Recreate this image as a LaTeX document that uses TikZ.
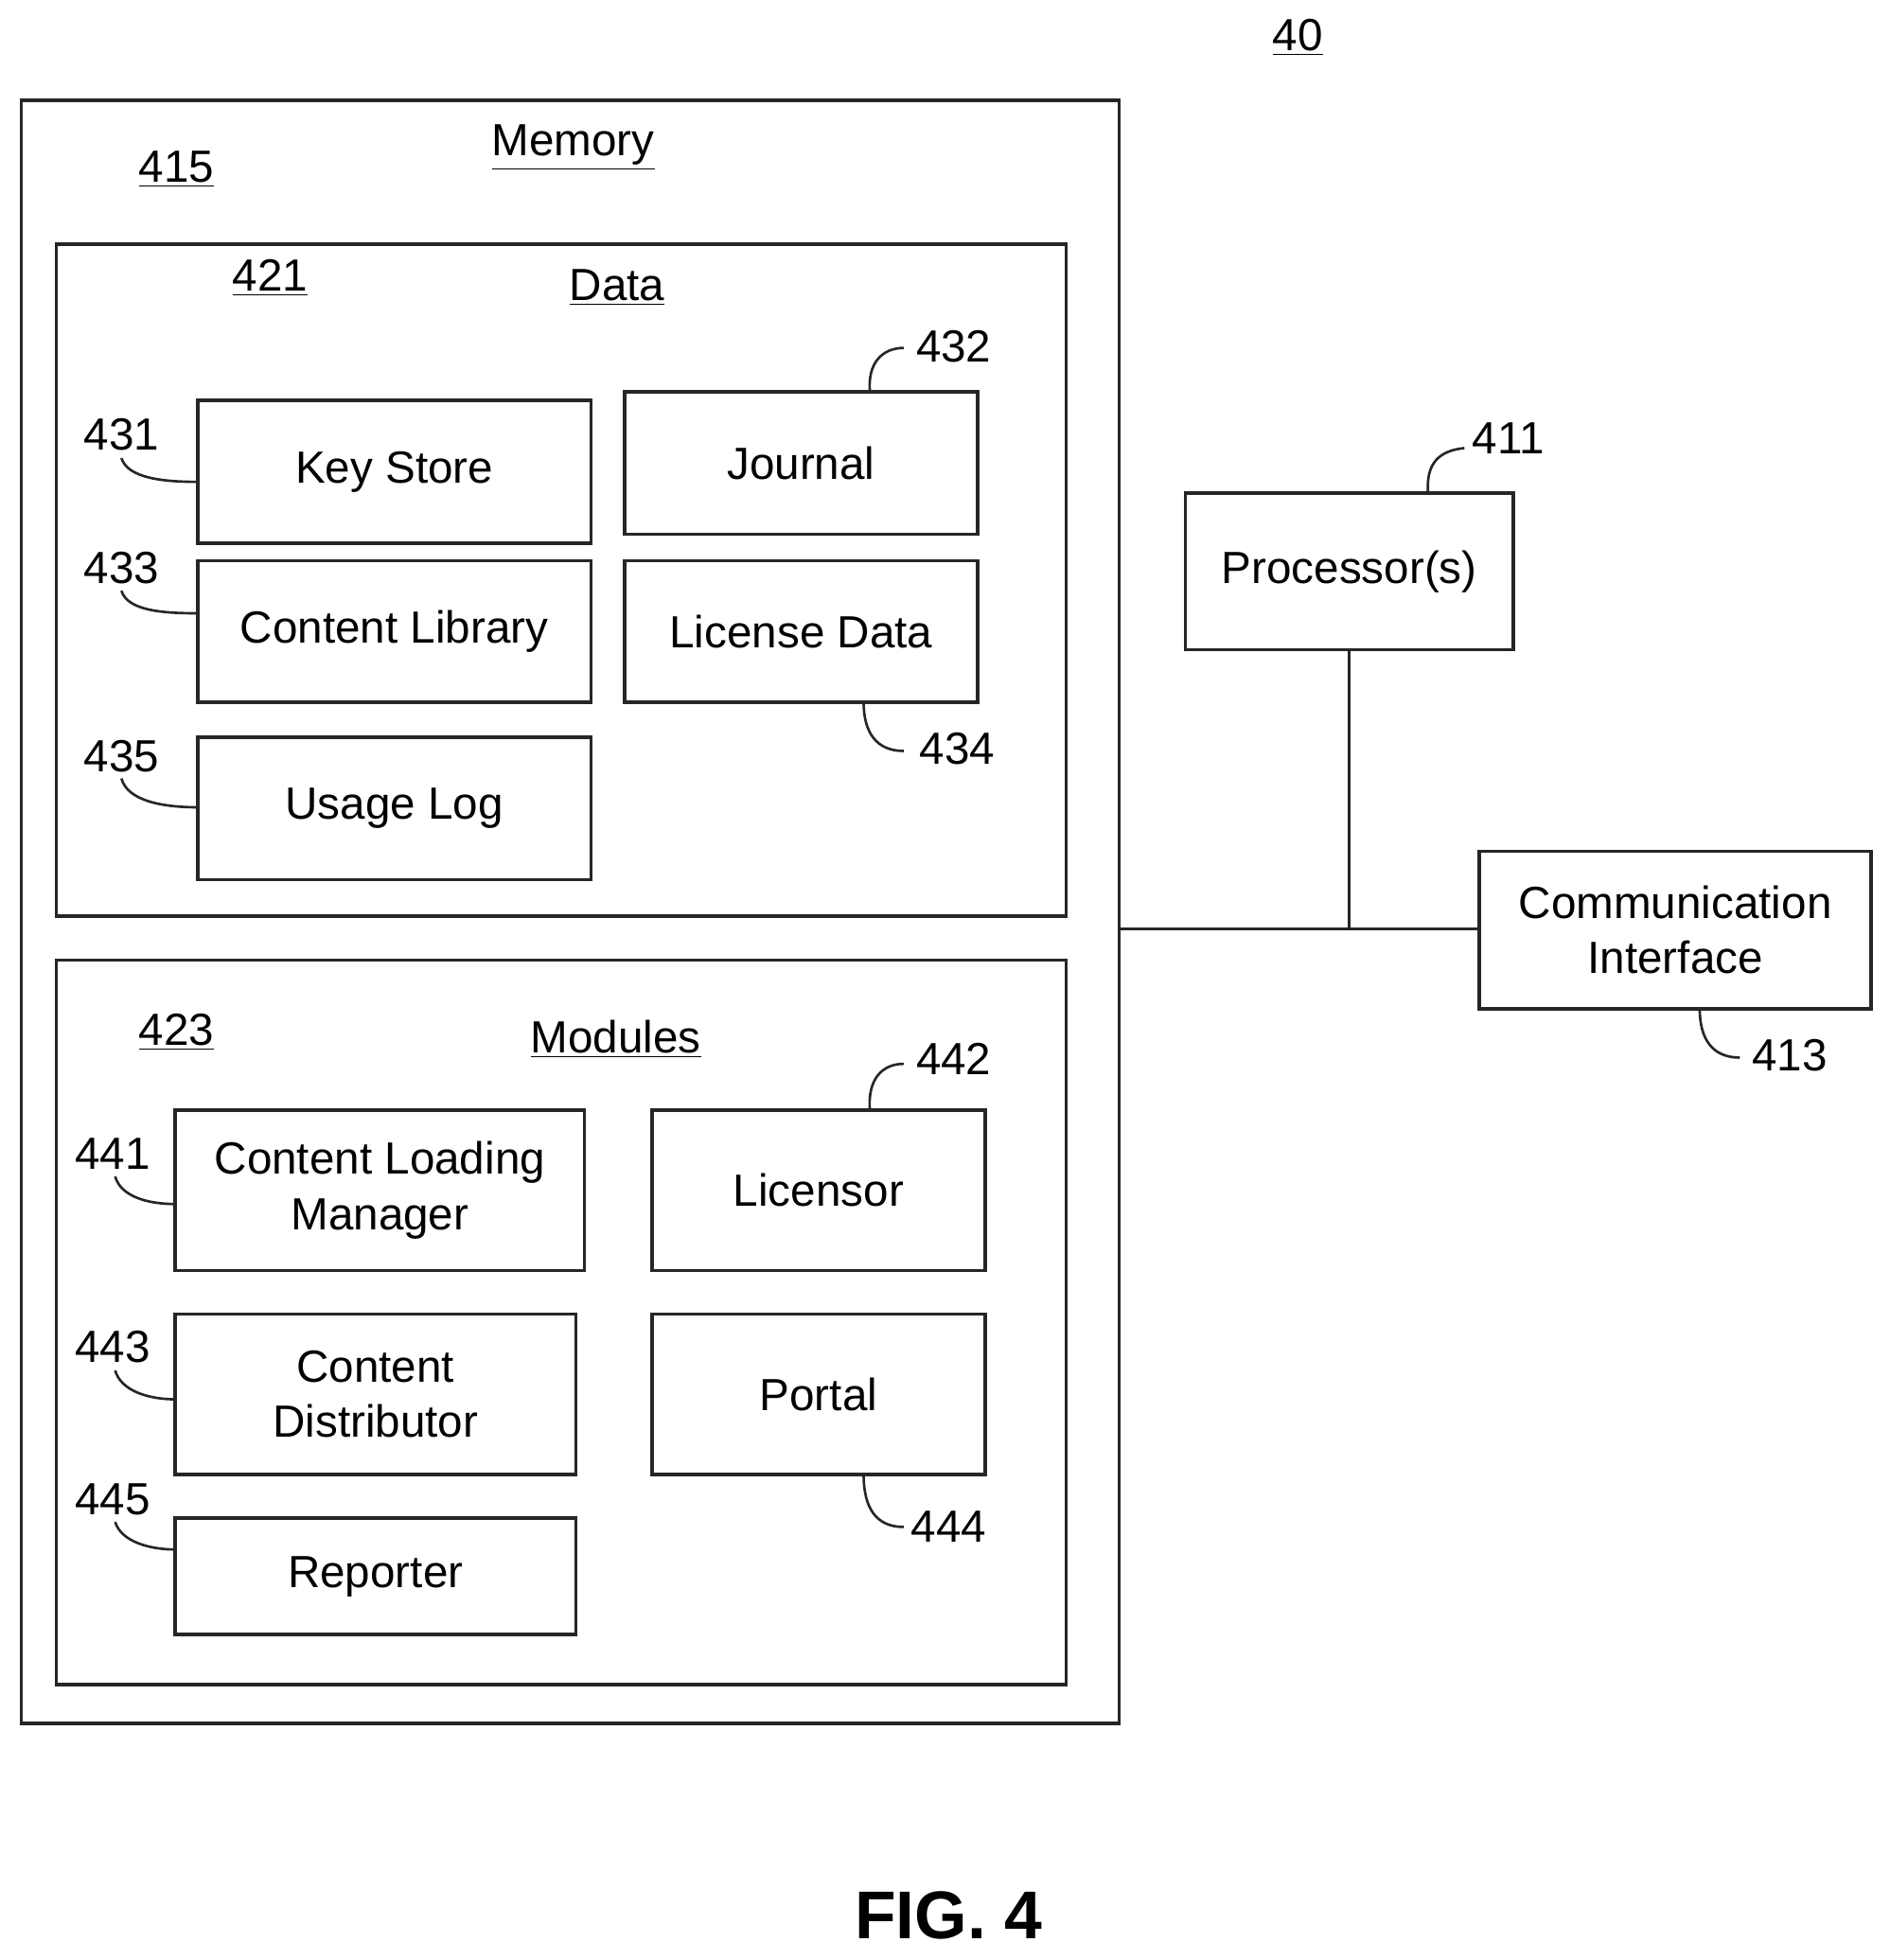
\documentclass[tikz,border=0pt]{standalone}
\usepackage{fontspec}
\setmainfont{Liberation Sans}
\begin{document}
\begin{tikzpicture}[x=0.5pt,y=-0.5pt,
  box/.style={draw=black!85,line width=1.3pt},
  lbl/.style={font=\fontsize{18}{22}\selectfont,align=center},
  num/.style={font=\fontsize{18}{21}\selectfont},
  lead/.style={draw=black!85,line width=1pt}]
\useasboundingbox (0,0) rectangle (1510,1566);
\draw[box] (17,80) rectangle (894,1377);
\draw[box] (45,195) rectangle (852,732);
\draw[box] (45,767) rectangle (852,1346);
\node[num] (n40) at (1037,30) {\underline{40}};
\node[num] (n415) at (141,135) {\underline{415}};
\node[num] (mem) at (458,118) {\underline{Memory}};
\node[num] (n421) at (216,222) {\underline{421}};
\node[num] (dat) at (493,230) {\underline{Data}};
\node[num] (n423) at (141,825) {\underline{423}};
\node[num] (mod) at (492,830) {\underline{Modules}};
% boxes
\draw[box] (158,320) rectangle (472,434) node[lbl,midway] (ks) {Key Store};
\draw[box] (499,313) rectangle (781,427) node[lbl,midway] (jo) {Journal};
\draw[box] (158,448) rectangle (472,561) node[lbl,midway] (cl) {Content Library};
\draw[box] (499,448) rectangle (781,561) node[lbl,midway] (ld) {License Data};
\draw[box] (158,589) rectangle (472,703) node[lbl,midway] (ul) {Usage Log};
\draw[box] (140,887) rectangle (467,1015) node[lbl,midway] (clm) {Content Loading\\Manager};
\draw[box] (521,887) rectangle (787,1015) node[lbl,midway] (lic) {Licensor};
\draw[box] (140,1050) rectangle (460,1178) node[lbl,midway] (cd) {Content\\Distributor};
\draw[box] (521,1050) rectangle (787,1178) node[lbl,midway] (po) {Portal};
\draw[box] (140,1213) rectangle (460,1306) node[lbl,midway] (rep) {Reporter};
\draw[box] (947,394) rectangle (1209,519) node[lbl,midway] (pr) {Processor(s)};
\draw[box] (1182,680) rectangle (1495,806) node[lbl,midway] (ci) {Communication\\Interface};
% bus
\coordinate (bj) at (1078,742);
\draw[box] (894,742) -- (1182,742);
\draw[box] (1078,519) -- (bj);
% reference numerals
\node[num] (n431) at (97,347) {431};
\draw[lead] (97,366) .. controls (102,382) and (130,385) .. (158,385);
\node[num] (n433) at (97,454) {433};
\draw[lead] (97,472) .. controls (102,488) and (130,490) .. (158,490);
\node[num] (n435) at (97,604) {435};
\draw[lead] (97,622) .. controls (102,640) and (130,645) .. (158,645);
\node[num] (n432) at (762,277) {432};
\draw[lead] (695,313) .. controls (693,290) and (705,278) .. (722,278);
\node[num] (n434) at (765,598) {434};
\draw[lead] (690,561) .. controls (690,585) and (700,600) .. (722,600);
\node[num] (n411) at (1205,350) {411};
\draw[lead] (1141,394) .. controls (1139,370) and (1150,360) .. (1170,358);
\node[num] (n413) at (1430,843) {413};
\draw[lead] (1358,806) .. controls (1358,830) and (1368,845) .. (1390,845);
\node[num] (n441) at (90,922) {441};
\draw[lead] (92,940) .. controls (97,957) and (120,962) .. (140,962);
\node[num] (n442) at (762,846) {442};
\draw[lead] (695,887) .. controls (693,862) and (705,850) .. (722,850);
\node[num] (n443) at (90,1076) {443};
\draw[lead] (92,1095) .. controls (97,1112) and (120,1118) .. (140,1118);
\node[num] (n444) at (758,1220) {444};
\draw[lead] (690,1178) .. controls (690,1205) and (700,1220) .. (722,1220);
\node[num] (n445) at (90,1198) {445};
\draw[lead] (92,1216) .. controls (97,1232) and (120,1238) .. (140,1238);
\node[font=\bfseries\fontsize{27}{30}\selectfont] (fig) at (758,1530) {FIG. 4};
\end{tikzpicture}
\end{document}
